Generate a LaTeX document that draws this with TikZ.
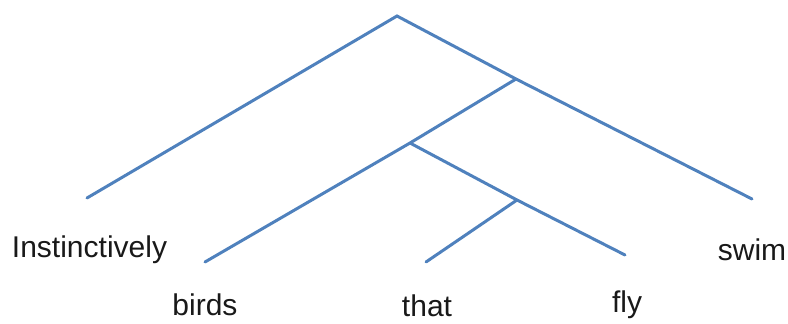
\documentclass[tikz,border=0pt]{standalone}
\usepackage{fontspec}
\setmainfont{Liberation Sans}
\definecolor{treeblue}{RGB}{79,129,189}
\tikzset{
  branch/.style={draw=treeblue, line width=3pt, line cap=round},
  word/.style={anchor=base, inner sep=0pt, font=\fontsize{30}{36}\selectfont, text=black!90}
}
\begin{document}
\begin{tikzpicture}[x=1pt,y=-1pt]
\useasboundingbox (0,0) rectangle (788,324);
% junctions
\coordinate (root) at (397,16);
\coordinate (n1) at (516,79);
\coordinate (n2) at (410,143);
\coordinate (n3) at (517,200);
% leaf line ends
\coordinate (eInst) at (87,198);
\coordinate (eSwim) at (752,199);
\coordinate (eBirds) at (205,262);
\coordinate (eFly) at (625,255);
\coordinate (eThat) at (426,262);
% branches
\draw[branch] (eInst) -- (root) -- (n1) -- (eSwim);
\draw[branch] (n1) -- (n2) -- (eBirds);
\draw[branch] (n2) -- (n3) -- (eFly);
\draw[branch] (n3) -- (eThat);
% words
\node[word] (inst) at (89.5,257) {Instinctively};
\node[word] (swim) at (752,260) {swim};
\node[word] (birds) at (205,315) {birds};
\node[word] (that) at (427,316) {that};
\node[word] (fly) at (627,312) {fly};
\end{tikzpicture}
\end{document}
